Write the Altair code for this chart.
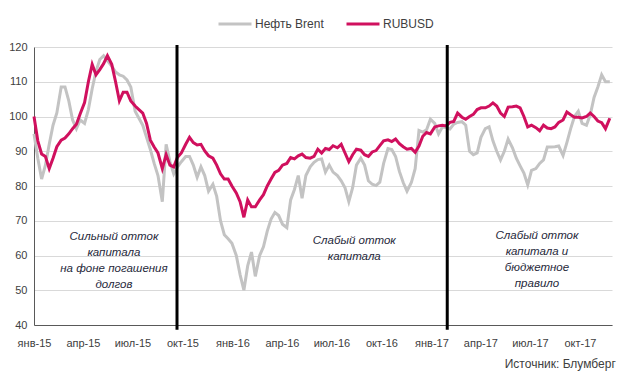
import altair as alt
import pandas as pd

# Sampled roughly weekly from 2015-01-01 to 2017-11-25 (index Jan-2015 = 100)
first_date = "2015-01-01"
last_date = "2017-11-25"
brent = [
    95, 88, 82, 86, 92, 97.5, 101, 108.5, 108.5, 104.5,
    99, 96.5, 99, 98, 102, 108, 113, 116.4, 117.5, 116,
    114.5, 112.8, 112, 111.6, 110.5, 108.5, 101.5, 99.5, 97.5, 94,
    90.5, 86.5, 83, 75.5, 92, 87, 83.5, 85.5,
    87, 88.5, 88.5, 86, 82.5, 85.5, 83, 78.5, 80.5, 77,
    70, 66, 64.8, 63.5, 60, 54.5, 50, 57, 61, 54,
    60, 62.5, 67, 70.5, 72.4, 71.5, 69, 68, 76, 79,
    83, 76.5, 83, 85.5, 86.8, 87.6, 87.8,
    84, 86, 84, 83, 81.5, 79.5, 75.5, 79.5, 86, 88,
    86, 81.5, 80.5, 80.1, 81.1, 86.5, 90.8, 90.5, 88.5, 84.2,
    81, 78.5, 81, 85, 96, 95.5, 96.2, 99.2, 98, 95,
    97, 96.8, 96.4, 97.8, 98.3, 98.5, 97.5, 90,
    89, 89.5, 94, 96.5, 97, 93, 90, 87.5, 90, 93.5,
    91, 88, 85.8, 83.7, 80.3, 84.5, 85, 86.5, 87.5, 91.2,
    91.2, 91.3, 91.5, 88.8, 92.5, 96.5, 100, 101.5, 98, 97.5,
    100.5, 105.5, 108.5, 112, 110, 110,
]
rubusd = [
    100, 93, 89.2, 88.5, 85, 88, 91.3, 93.2, 93.8, 95,
    96.5, 97.8, 100.8, 104, 110, 115, 112, 113.5, 115.2, 117.5,
    115, 110, 104.5, 107, 107, 104.5, 103, 102, 101, 98,
    93.2, 91.2, 89.5, 85, 89, 86, 85.5, 88.3,
    89.5, 92, 94, 92.5, 91.8, 92, 90.1, 88.7, 88, 86,
    83.5, 82, 82, 80, 78, 75.5, 71, 76, 74, 74,
    76, 77.5, 80, 82, 83.9, 84.5, 86, 86.5, 88.2, 87.8,
    88.7, 89.2, 88.2, 88, 88.5, 90.6, 89.5,
    90.8, 90.5, 91.6, 91, 92, 89.5, 87, 89, 90.6, 90.3,
    89, 88.5, 89.8, 90.2, 91.6, 93, 93.3, 92.8, 93.5, 92.2,
    91.3, 90.6, 90.8, 89.7, 91.5, 94.3, 95.4, 95, 97, 97.3,
    97.5, 97.3, 98.3, 98.6, 101, 99.8, 99.2, 100,
    100.6, 102, 102.5, 102.5, 103, 103.9, 103, 101, 100, 102.7,
    102.8, 103, 102.5, 100, 97, 97.5, 96.8, 95.9, 97.5, 96.7,
    96.5, 97, 98.3, 99, 101.3, 100.5, 99.8, 99.8, 99.6, 100,
    101, 100, 98.7, 98.2, 96.5, 99.5,
]
series_names = ["Нефть Brent", "RUBUSD"]
series_colors = ["#C3C3C3", "#D0105E"]

y_ticks = [40, 50, 60, 70, 80, 90, 100, 110, 120]
event_dates = ["2015-09-21", "2017-01-30"]
event_top = 120.6
event_bottom = 38.6

notes = [
    ("2015-05-28", 65.2, ["Сильный отток", "капитала", "на фоне погашения", "долгов"]),
    ("2016-08-12", 64.3, ["Слабый отток", "капитала"]),
    ("2017-07-14", 65.5, ["Слабый отток", "капитала и", "бюджетное", "правило"]),
]
source_text = "Источник: Блумберг"
month_abbr = ['янв', 'фев', 'мар', 'апр', 'май', 'июн', 'июл', 'авг', 'сен', 'окт', 'ноя', 'дек']

dates = pd.date_range(first_date, last_date, periods=len(brent)).strftime("%Y-%m-%d")
df = pd.concat([
    pd.DataFrame({"date": dates, "value": brent, "series": series_names[0]}),
    pd.DataFrame({"date": dates, "value": rubusd, "series": series_names[1]}),
])
df_events = pd.DataFrame({"date": event_dates, "top": event_top, "bottom": event_bottom})
df_notes = pd.DataFrame({"date": [n[0] for n in notes], "value": [n[1] for n in notes],
                         "text": [n[2] for n in notes]})

FONT = "Liberation Sans"

tick_vals = [alt.DateTime(year=y, month=m, date=1, utc=True)
             for y in (2015, 2016, 2017) for m in (1, 4, 7, 10)]
xscale = alt.Scale(type="utc",
                   domain=[alt.DateTime(year=2015, month=1, date=1, utc=True),
                           alt.DateTime(year=2017, month=11, date=29, utc=True)])
yscale = alt.Scale(domain=[40, 120], nice=False, zero=False)

label_expr = ("['" + "','".join(month_abbr) + "'][utcmonth(datum.value)] + '-' + "
              "utcFormat(datum.value, '%y')")

x_axis = alt.Axis(values=tick_vals, labelExpr=label_expr, title=None, grid=False,
                  ticks=False, labelPadding=12, labelFont=FONT, labelFontSize=11,
                  labelColor="#404040", domainColor="#595959", labelAngle=0,
                  labelOverlap=False, labelFlush=False)
y_axis = alt.Axis(values=y_ticks, title=None, ticks=False,
                  labelPadding=7, labelFont=FONT, labelFontSize=11,
                  labelColor="#404040", domainColor="#595959",
                  labelOverlap=False, labelFlush=False,
                  gridColor="#D9D9D9", gridWidth=1)

lines = alt.Chart(df).mark_line(strokeWidth=3, interpolate="linear").encode(
    x=alt.X("date:T", scale=xscale, axis=x_axis),
    y=alt.Y("value:Q", scale=yscale, axis=y_axis),
    color=alt.Color("series:N", sort=series_names,
                    scale=alt.Scale(domain=series_names, range=series_colors),
                    legend=alt.Legend(orient="none", legendX=183, legendY=-41,
                                      direction="horizontal", title=None,
                                      symbolType="stroke", symbolSize=1089,
                                      symbolStrokeWidth=3, labelFont=FONT,
                                      labelFontSize=12, labelColor="#404040",
                                      columnPadding=16, labelOffset=2, padding=0)),
    order=alt.Order("date:T"),
)

rules = alt.Chart(df_events).mark_rule(color="black", strokeWidth=3).encode(
    x=alt.X("date:T", scale=xscale, axis=x_axis),
    y=alt.Y("top:Q", scale=yscale, axis=y_axis),
    y2="bottom:Q")

texts = alt.Chart(df_notes).mark_text(
    font=FONT, fontSize=11.5, fontStyle="italic", color="#26283A",
    lineHeight=16, baseline="middle", align="center").encode(
    x=alt.X("date:T", scale=xscale, axis=x_axis),
    y=alt.Y("value:Q", scale=yscale, axis=y_axis),
    text="text")

chart = alt.layer(lines, rules, texts).properties(
    width=578, height=278,
    title=alt.TitleParams(source_text, orient="bottom", anchor="end", fontSize=12,
                          font=FONT, fontWeight="normal", color="#404040", offset=11),
    autosize=alt.AutoSizeParams(type="none"),
    padding={"left": 26, "top": 39, "right": 20, "bottom": 50},
).configure_view(stroke=None)

chart.save("out.html", embed_options={"renderer": "svg", "actions": False})
